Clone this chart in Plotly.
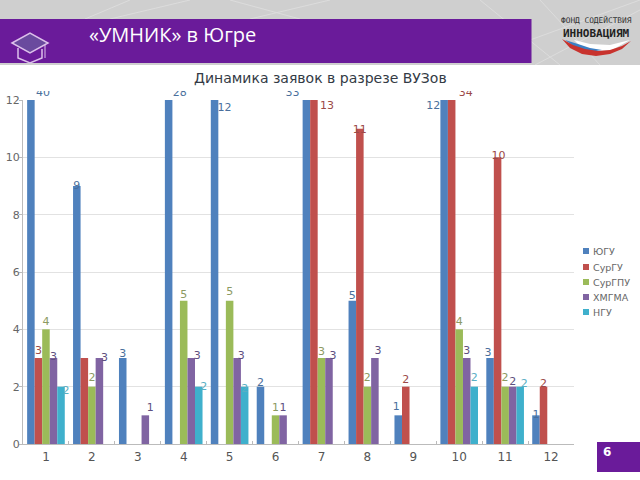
import plotly.graph_objects as go

categories = ["1","2","3","4","5","6","7","8","9","10","11","12"]
yugu   = [40,9,3,28,12,2,33,5,1,12,3,1]
surgu  = [3,3,None,None,None,None,13,11,2,34,10,2]
surgpu = [4,2,None,5,5,1,3,2,None,4,2,None]
hmgma  = [3,3,1,3,3,1,3,3,None,3,2,None]
ngu    = [2,None,None,2,2,None,None,None,None,2,2,None]
names  = ["ЮГУ","СурГУ","СурГПУ","ХМГМА","НГУ"]
values = [yugu,surgu,surgpu,hmgma,ngu]
colors = ["#4F81BD","#C0504D","#9BBB59","#8064A2","#3FB0CC"]
label_colors = ["#4A6F9C","#9C4A48","#8C9A62","#5E5080","#5AAFC4"]
y_ticks = [0,2,4,6,8,10,12]
PURPLE = "#6A1B9A"

# Label nudges in pixels from the bar's top centre: (series, category) -> (dx, dy)
label_nudge = {
 (0,0):(12,-7),(1,0):(0,-7),(2,0):(0,-7),(3,0):(0,-1),(4,0):(5,5),
 (0,1):(0,0),(2,1):(0,-8),(3,1):(5,0),
 (0,2):(0,-4),(3,2):(5,-7),
 (0,3):(11,-7),(2,3):(0,-5),(3,3):(6,-2),(4,3):(5,1),
 (0,4):(10,8),(2,4):(0,-8),(3,4):(4,-2),(4,4):(0,3),
 (0,5):(0,-3),(2,5):(0,-7),(3,5):(0,-7),
 (0,6):(-14,-7),(1,6):(13,6),(2,6):(0,-6),(3,6):(4,-2),
 (0,7):(0,-4),(1,7):(0,2),(2,7):(0,-8),(3,7):(3,-7),
 (0,8):(-2,-8),(1,8):(0,-6),
 (0,9):(-11,6),(1,9):(14,-7),(2,9):(0,-7),(3,9):(0,-7),(4,9):(0,-8),
 (0,10):(-2,-5),(1,10):(1,-1),(2,10):(0,-8),(3,10):(0,-4),(4,10):(4,-2),
 (0,11):(0,0),(1,11):(0,-2),
}
GAP = 0.18
L, R, T, B = 23, 574, 100, 444
PT = 80   # top of the plotting frame; the value axis itself stops at T
catw = (R-L)/12
pxy = (B-T)/12
barw = (1-GAP)/5

fig = go.Figure()
for name, vals, col in zip(names, values, colors):
    fig.add_bar(name=name, x=categories, y=vals, marker_color=col, marker_line_width=0, showlegend=False)

for s, (vals, col) in enumerate(zip(values, label_colors)):
    xs, ys, ts = [], [], []
    for c, v in enumerate(vals):
        if v is None or (s, c) not in label_nudge:
            continue
        dx, dy = label_nudge[(s, c)]
        xs.append(c + (s-2)*barw + dx/catw)
        ys.append(min(v, 12) - dy/pxy)
        ts.append(str(v))
    fig.add_scatter(x=xs, y=ys, text=ts, mode="text", textposition="middle center", xaxis="x2", yaxis="y2",
                    textfont=dict(family="DejaVu Sans", size=11, color=col), cliponaxis=False,
                    showlegend=False, hoverinfo="skip")

def X(v): return (v-L)/(R-L)
def Y(v): return (B-v)/(B-PT)
def rect(x0,y0,x1,y1,color):
    return dict(type="rect",xref="paper",yref="paper",x0=X(x0),x1=X(x1),y0=Y(y1),y1=Y(y0),
                fillcolor=color,line_width=0,layer="above")
def path(pts,fill=None,line=None,w=1.5,close=False):
    d="M"+" L".join(f"{X(a):.5f},{Y(b):.5f}" for a,b in pts)+(" Z" if close else "")
    return dict(type="path",xref="paper",yref="paper",path=d,fillcolor=fill or "rgba(0,0,0,0)",
                line=dict(color=line or "rgba(0,0,0,0)",width=w if line else 0),layer="above")

CAP = "#DCC0EA"
shapes = [rect(0,0,640,65,"#CFCFCF")]
for a,b,c,d in [(85,19,130,0),(110,19,190,0),(230,0,300,19),(250,19,330,0),(480,0,560,65),(540,0,600,65),(535,65,640,10),(530,40,640,0)]:
    shapes.append(path([(a,b),(c,d)],line="#DCDCDC",w=1))
shapes += [
    rect(0,19,531.5,63,PURPLE),
    rect(0,65,640,91,"#FFFFFF"),
    rect(597,442,640,472,PURPLE),
    path([(12,43),(30,33),(48,43),(30,53)],fill="#6A4A9E",line=CAP,close=True),
    path([(18,48),(18,58),(30,63),(42,58),(42,49)],line=CAP),
    path([(45,45),(45,58)],line=CAP,w=1),
    path([(574,40),(590,44),(610,45),(630,40),(612,50),(596,51),(582,48)],fill="#FFFFFF",close=True),
    path([(565,40),(578,44),(590,48),(602,50),(590,52),(575,47)],fill="#3B7FC4",close=True),
    path([(562,39),(573,45),(585,49),(598,51),(610,50),(622,46),(631,41),(622,49),(610,54),(596,56),(582,54),(570,48)],fill="#C8332E",close=True),
]

def label(x,y,t,size,color,family="Open Sans",bold=False,anchor="left"):
    return dict(xref="paper",yref="paper",x=X(x),y=Y(y),text=f"<b>{t}</b>" if bold else t,showarrow=False,
                xanchor=anchor,yanchor="middle",font=dict(family=family,size=size,color=color))

annotations = [
    label(87,34,"«УМНИК» в Югре",20,"#FFFFFF"),
    label(320,78,"Динамика заявок в разрезе ВУЗов",14,"#333A45","DejaVu Sans",anchor="center"),
    label(601,452,"6",12,"#FFFFFF","DejaVu Sans",True),
    label(596,20,"ФОНД СОДЕЙСТВИЯ",7.8,"#333333","DejaVu Sans Mono",anchor="center"),
    label(596,33,"ИННОВАЦИЯМ",11,"#222222","DejaVu Sans Mono",True,anchor="center"),
]
legend_y = [251,267,282,297,312]
for nm, col, ly in zip(names, colors, legend_y):
    shapes.append(rect(583,ly-3,589,ly+3,col))
    annotations.append(label(591,ly,nm,9.5,"#666666","DejaVu Sans"))

fig.update_layout(
    width=640,height=480,autosize=False,barmode="group",bargap=GAP,bargroupgap=0,showlegend=False,
    margin=dict(l=L,r=640-R,t=PT,b=480-B,pad=0,autoexpand=False),paper_bgcolor="white",plot_bgcolor="rgba(0,0,0,0)",
    font=dict(family="DejaVu Sans",color="#666666",size=11),
    shapes=shapes,annotations=annotations,
    xaxis=dict(type="category",showgrid=False,showline=True,linecolor="#BBBBBB",ticks="inside",ticklen=3,
               tickson="boundaries",tickcolor="#BBBBBB",tickfont=dict(size=12,color="#555555"),ticklabelstandoff=2),
    xaxis2=dict(domain=[0,1],range=[-0.5,11.5],visible=False,fixedrange=True,anchor="y2"),
    yaxis=dict(range=[0,12],domain=[0,(B-T)/(B-PT)],tickvals=y_ticks,showgrid=True,gridcolor="#E2E2E2",showline=True,
               linecolor="#BBBBBB",ticks="outside",ticklen=3,tickcolor="#BBBBBB",zeroline=False,
               ticklabelstandoff=-3,tickfont=dict(size=11,color="#666666")),
    yaxis2=dict(range=[0,12*(B-PT)/(B-T)],domain=[0,1],visible=False,fixedrange=True,anchor="x2"),
)
fig.write_html("out.html",config=dict(displayModeBar=False),post_script="document.body.style.margin='0';document.body.style.overflow='hidden';")
